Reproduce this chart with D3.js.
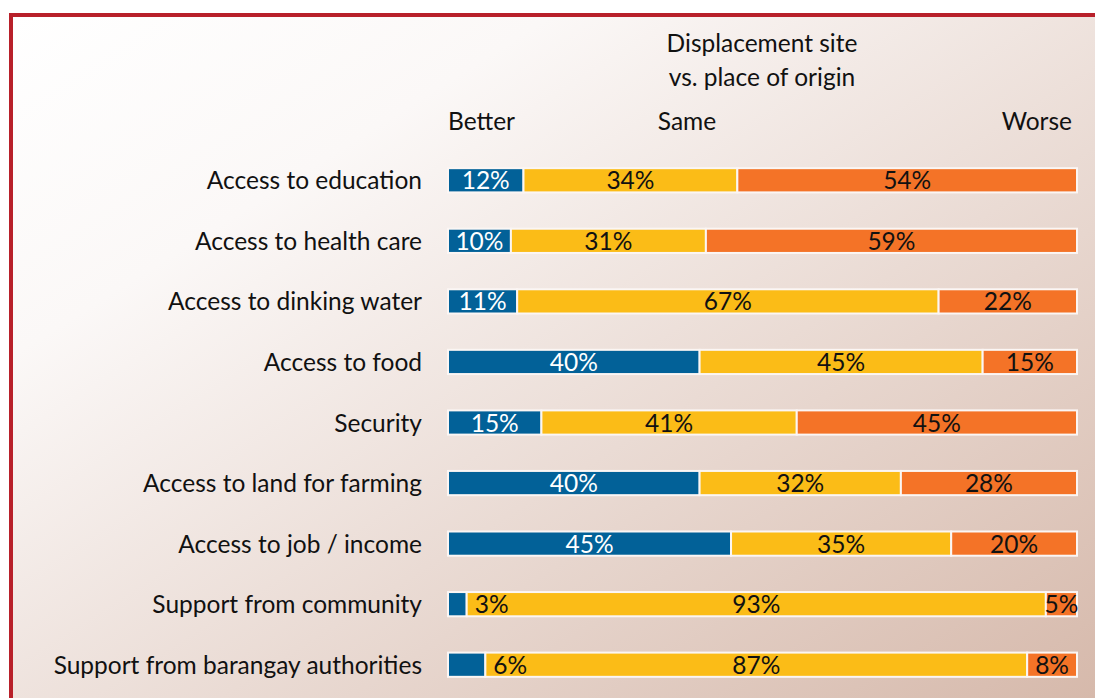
<!DOCTYPE html>
<html><head><meta charset="utf-8">
<script src="https://cdn.jsdelivr.net/npm/d3@7"></script>
<style>html,body{margin:0;padding:0;background:#fff;}svg{display:block;}</style>
</head><body>
<script>
const categories = ["Access to education","Access to health care","Access to dinking water","Access to food","Security","Access to land for farming","Access to job / income","Support from community","Support from barangay authorities"];
const better = [12,10,11,40,15,40,45,3,6];
const same   = [34,31,67,45,41,32,35,93,87];
const worse  = [54,59,22,15,45,28,20,5,8];
const seriesNames = ["Better","Same","Worse"];
const titleLines = ["Displacement site","vs. place of origin"];

const W=1095,H=698;
const FONT="Lato, 'Open Sans', sans-serif";
const svg=d3.select("body").append("svg").attr("width",W).attr("height",H);
const defs=svg.append("defs");
const g=defs.append("linearGradient").attr("id","bg").attr("x1","0").attr("y1","0").attr("x2","1").attr("y2","1");
g.append("stop").attr("offset","0").attr("stop-color","#ffffff");
g.append("stop").attr("offset","0.25").attr("stop-color","#fbf8f7");
g.append("stop").attr("offset","1").attr("stop-color","#d6b9ab");
svg.append("rect").attr("x",11).attr("y",15).attr("width",W-11).attr("height",H-15).attr("fill","url(#bg)");
svg.append("line").attr("x1",9).attr("x2",W).attr("y1",15).attr("y2",15).attr("stroke","#b8202a").attr("stroke-width",4);
svg.append("line").attr("x1",11).attr("x2",11).attr("y1",13).attr("y2",H).attr("stroke","#b8202a").attr("stroke-width",4);

const table=categories.map((c,i)=>({cat:c,Better:better[i],Same:same[i],Worse:worse[i]}));
const stack=d3.stack().keys(seriesNames).offset(d3.stackOffsetExpand)(table);
const x=d3.scaleLinear().domain([0,1]).range([448,1077]);
const y=d3.scaleBand().domain(categories).range([150,695]).paddingInner(0.6).paddingOuter(0.3);
const color=d3.scaleOrdinal().domain(seriesNames).range(["#026198","#fbbc17","#f47327"]);
const fs=24.5;

// title
svg.append("g").selectAll("text").data(titleLines).join("text")
  .attr("x",762).attr("y",(d,i)=>52+i*34).attr("text-anchor","middle")
  .attr("font-family",FONT).attr("font-size",fs).attr("fill","#111").text(d=>d);
// series header
const hx=[448,687,1072], ha=["start","middle","end"];
svg.append("g").selectAll("text").data(seriesNames).join("text")
  .attr("x",(d,i)=>hx[i]).attr("y",130).attr("text-anchor",(d,i)=>ha[i])
  .attr("font-family",FONT).attr("font-size",fs).attr("fill","#111").text(d=>d);

// category labels
svg.append("g").selectAll("text").data(categories).join("text")
  .attr("x",422).attr("y",d=>y(d)+y.bandwidth()/2+9).attr("text-anchor","end")
  .attr("font-family",FONT).attr("font-size",fs).attr("fill","#111").text(d=>d);

// bars
const layers=svg.append("g").selectAll("g").data(stack).join("g").attr("fill",d=>color(d.key));
layers.selectAll("rect").data(d=>d.map(v=>({v,key:d.key}))).join("rect")
  .attr("x",d=>x(d.v[0])).attr("y",d=>y(d.v.data.cat))
  .attr("width",d=>x(d.v[1])-x(d.v[0])).attr("height",y.bandwidth())
  .attr("stroke","#fbf6f4").attr("stroke-width",2);

// labels
stack.forEach(layer=>{
  layer.forEach(v=>{
    const val=v.data[layer.key];
    const w=x(v[1])-x(v[0]);
    const small = layer.key==="Better" && w<45;
    svg.append("text")
      .attr("x", small ? x(v[1])+8 : (x(v[0])+x(v[1]))/2)
      .attr("y", y(v.data.cat)+y.bandwidth()/2+9)
      .attr("text-anchor", small?"start":"middle")
      .attr("font-family",FONT).attr("font-size",fs)
      .attr("fill", layer.key==="Better" && !small ? "#ffffff" : "#111")
      .text(val+"%");
  });
});
</script>
</body></html>
